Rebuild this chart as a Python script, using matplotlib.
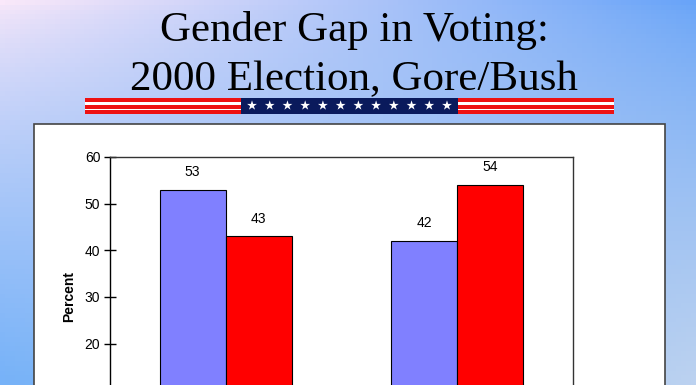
import matplotlib
matplotlib.use("Agg")
import matplotlib.pyplot as plt
import numpy as np
from matplotlib.patches import Rectangle

# data
categories = ["Women", "Men"]
gore = [53, 42]
bush = [43, 54]
y_ticks = [10, 20, 30, 40, 50, 60]

W, H = 696, 385
fig = plt.figure(figsize=(W / 100, H / 100), dpi=100)

# decoration layer in pixel coords
deco = fig.add_axes([0, 0, 1, 1])
deco.set_xlim(0, W)
deco.set_ylim(H, 0)
deco.axis("off")

# background gradient (bilinear between corner colours)
tl = np.array([250, 232, 250]) / 255
tr = np.array([104, 164, 248]) / 255
bl = np.array([118, 178, 248]) / 255
br = np.array([188, 210, 240]) / 255
u = np.linspace(0, 1, 140)[None, :, None]
v = np.linspace(0, 1, 80)[:, None, None] ** 0.7
grad = (1 - v) * ((1 - u) * tl + u * tr) + v * ((1 - u) * bl + u * br)
deco.imshow(grad, extent=[0, W, H, 0], aspect="auto", zorder=0)

# white panel
deco.add_patch(Rectangle((34, 124), 631, 300, facecolor="white",
                         edgecolor="#444444", linewidth=1.2, zorder=1))

# flag bar
for y0, h, c in [(98, 4, "#ee1111"), (102, 2.5, "white"), (104.5, 4, "#ee1111"),
                 (108.5, 1.5, "white"), (110, 3.5, "#ee1111")]:
    deco.add_patch(Rectangle((85, y0), 529, h, facecolor=c, edgecolor="none", zorder=2))
deco.add_patch(Rectangle((241, 98), 217, 15.5, facecolor="#0a1a5c", edgecolor="none", zorder=3))
star_x = np.linspace(252, 447, 12)
deco.scatter(star_x, np.full(12, 105.5), marker="*", s=55, color="white",
             edgecolors="none", zorder=4)

# title
deco.text(354, 31, "Gender Gap in Voting:", family="Liberation Serif",
          fontsize=31, ha="center", va="center", zorder=5)
deco.text(354, 80, "2000 Election, Gore/Bush", family="Liberation Serif",
          fontsize=31, ha="center", va="center", zorder=5)

# chart axes (bottom falls below the figure, as in the cropped original)
ax = fig.add_axes([110 / W, 1 - 437 / H, 463 / W, 280 / H])
ax.set_facecolor("none")
x = np.arange(len(categories))
bw = 1 / 3.5
b1 = ax.bar(x - bw / 2, gore, bw, color="#8080ff", edgecolor="black", linewidth=0.8)
b2 = ax.bar(x + bw / 2, bush, bw, color="#ff0000", edgecolor="black", linewidth=0.8)
for bars in (b1, b2):
    for r in bars:
        ax.text(r.get_x() + r.get_width() / 2, r.get_height() + 2.3,
                f"{r.get_height():.0f}", ha="center", va="bottom",
                family="Liberation Sans", fontsize=10)

ax.set_xlim(-0.5, 1.5)
ax.set_ylim(0, 60)
ax.set_yticks(y_ticks)
ax.set_yticklabels([str(t) for t in y_ticks], family="Liberation Sans", fontsize=10)
ax.set_xticks([])
ax.tick_params(axis="y", direction="inout", length=8, width=1, pad=3)
for s in ax.spines.values():
    s.set_linewidth(1)
ax.spines["top"].set_color("#333333")
ax.spines["right"].set_color("#333333")
ax.set_ylabel("Percent", family="Liberation Sans", fontsize=10,
              fontweight="bold", labelpad=6)

fig.savefig("out.png", dpi=100)
